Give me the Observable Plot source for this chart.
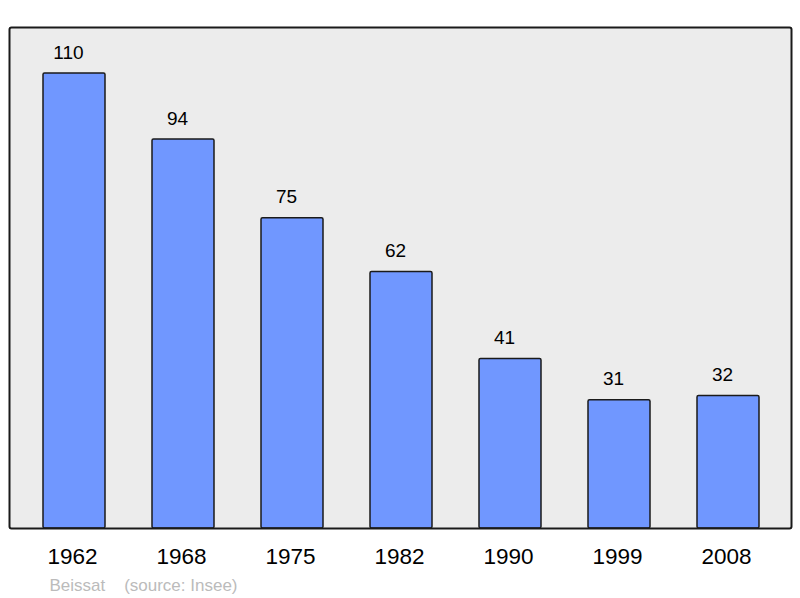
<!DOCTYPE html>
<html>
<head>
<meta charset="utf-8">
<script src="https://cdn.jsdelivr.net/npm/d3@7"></script>
<script src="https://cdn.jsdelivr.net/npm/@observablehq/plot@0.6"></script>
<style>
  html, body { margin: 0; padding: 0; background: #ffffff; }
  #chart svg { display: block; }
</style>
</head>
<body>
<div id="chart"></div>
<script>
const years = ["1962", "1968", "1975", "1982", "1990", "1999", "2008"];
const population = [110, 94, 75, 62, 41, 31, 32];
const caption = "Beissat\u00a0\u00a0\u00a0\u00a0(source: Insee)";

const data = years.map((y, i) => ({year: y, value: population[i]}));

const chart = Plot.plot({
  width: 800,
  height: 598,
  marginLeft: 9,
  marginRight: 9,
  marginTop: 27,
  marginBottom: 70,
  style: {fontFamily: "'Liberation Sans', Arial, sans-serif", background: "#ffffff", color: "#000"},
  x: {domain: years, range: [41, 761.5], paddingInner: 0.427, paddingOuter: 0, axis: null},
  y: {domain: [0, 121.1], axis: null},
  marks: [
    Plot.frame({fill: "#ececec", stroke: "none"}),
    Plot.barY(data, {x: "year", y: "value", fill: "#7097ff", stroke: "#1a1a1a", strokeWidth: 1.5, rx: 1.5}),
    Plot.text(data, {x: "year", y: "value", text: d => String(d.value), dy: -21, dx: -6, fontSize: 19, fill: "#000", lineAnchor: "middle"}),
    Plot.axisX({tickSize: 0, tickPadding: 20, fontSize: 22.5, dx: -2, label: null, fill: "#000"}),
    Plot.frame({stroke: "#1a1a1a", strokeWidth: 2, rx: 2}),
    Plot.text([caption], {frameAnchor: "bottom-left", dx: 40, dy: 57, fontSize: 17, fill: "#bbbbbb", textAnchor: "start", lineAnchor: "middle"})
  ]
});

document.getElementById("chart").appendChild(chart);
</script>
</body>
</html>
